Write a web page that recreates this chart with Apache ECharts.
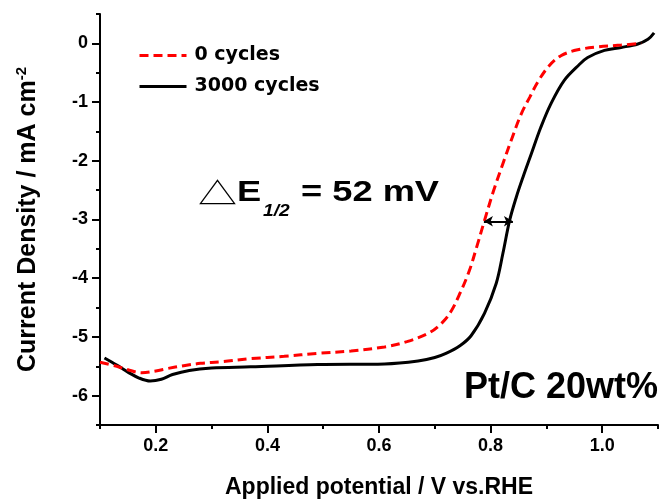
<!DOCTYPE html>
<html>
<head>
<meta charset="utf-8">
<script src="https://cdn.jsdelivr.net/npm/echarts@6/dist/echarts.min.js"></script>
<style>
  html, body { margin: 0; padding: 0; background: #fff; }
  #chart { width: 665px; height: 502px; }
</style>
</head>
<body>
<div id="chart"></div>
<script>
// Polarisation curves of Pt/C 20wt% before and after 3000 cycles
const potential0 = [0.100, 0.130, 0.150, 0.175, 0.200, 0.220, 0.250, 0.280, 0.320, 0.370,
  0.430, 0.490, 0.550, 0.610, 0.650, 0.690, 0.715, 0.730, 0.745, 0.762, 0.775, 0.789,
  0.805, 0.822, 0.837, 0.855, 0.870, 0.885, 0.905, 0.926, 0.956, 0.992, 1.034, 1.070];
const current0 = [-5.43, -5.50, -5.56, -5.61, -5.58, -5.54, -5.49, -5.45, -5.42, -5.37,
  -5.33, -5.28, -5.24, -5.17, -5.08, -4.93, -4.74, -4.55, -4.26, -3.87, -3.47, -3.02,
  -2.52, -2.05, -1.65, -1.20, -0.92, -0.65, -0.38, -0.21, -0.11, -0.06, -0.03, 0.00];

const potential3000 = [0.108, 0.130, 0.150, 0.170, 0.190, 0.210, 0.230, 0.260, 0.300, 0.370,
  0.490, 0.610, 0.670, 0.700, 0.720, 0.745, 0.765, 0.789, 0.810, 0.822, 0.834, 0.846,
  0.858, 0.873, 0.890, 0.908, 0.932, 0.959, 0.974, 1.004, 1.034, 1.064, 1.082, 1.093];
const current3000 = [-5.36, -5.48, -5.60, -5.70, -5.75, -5.72, -5.64, -5.57, -5.53, -5.51,
  -5.47, -5.46, -5.41, -5.35, -5.28, -5.15, -4.98, -4.60, -4.09, -3.58, -3.02, -2.62,
  -2.28, -1.88, -1.43, -1.03, -0.63, -0.36, -0.24, -0.12, -0.07, -0.01, 0.07, 0.18];

const seriesNames = ['0 cycles', '3000 cycles'];

// Half-wave potentials and their shift (V)
const halfWaveCurrent = -3.03;
const halfWave0 = 0.788;
const halfWaveShift = 0.052;

const xMajor = [0.2, 0.4, 0.6, 0.8, 1.0];
const xMinor = [0.1, 0.3, 0.5, 0.7, 0.9, 1.1];
const yMajor = [0, -1, -2, -3, -4, -5, -6];
const yMinor = [0.5, -0.5, -1.5, -2.5, -3.5, -4.5, -5.5, -6.5];

const FONT = '"Liberation Sans", Arial, Helvetica, sans-serif';
const WIDE_FONT = '"DejaVu Sans", "Liberation Sans", sans-serif';
const zip = (xs, ys) => xs.map((x, i) => [x, ys[i]]);

const chart = echarts.init(document.getElementById('chart'), null, { renderer: 'canvas' });

const axisLineStyle = { color: '#000', width: 2 };

chart.setOption({
  animation: false,
  backgroundColor: '#fff',
  grid: { left: 100, right: 7, top: 14, bottom: 77, outerBoundsMode: 'none' },
  legend: {
    data: seriesNames,
    orient: 'vertical',
    left: 138,
    top: 46,
    padding: 0,
    itemWidth: 47,
    itemHeight: 20,
    itemGap: 12,
    // line-only keys: hide the marker symbol
    itemStyle: { color: 'transparent', borderColor: 'transparent', borderWidth: 0, opacity: 0 },
    lineStyle: { width: 3 },
    textStyle: { fontFamily: WIDE_FONT, fontWeight: 'bold', fontSize: 19, color: '#000', padding: [0, 0, 0, 3] }
  },
  xAxis: [
    {
      type: 'value', min: 0.1, max: 1.1, position: 'bottom',
      axisLine: { onZero: false, lineStyle: axisLineStyle },
      axisTick: { customValues: xMajor, length: 8, lineStyle: axisLineStyle },
      axisLabel: {
        customValues: xMajor, margin: 12,
        formatter: v => v.toFixed(1),
        fontFamily: FONT, fontWeight: 'bold', fontSize: 18, color: '#000'
      },
      splitLine: { show: false },
      name: 'Applied potential / V vs.RHE',
      nameLocation: 'middle', nameGap: 51,
      nameTextStyle: { fontFamily: FONT, fontWeight: 'bold', fontSize: 23, color: '#000' }
    },
    {
      type: 'value', min: 0.1, max: 1.1, position: 'bottom',
      axisLine: { show: false, onZero: false },
      axisTick: { customValues: xMinor, length: 4, lineStyle: axisLineStyle },
      axisLabel: { show: false },
      splitLine: { show: false }
    }
  ],
  yAxis: [
    {
      type: 'value', min: -6.5, max: 0.5, position: 'left',
      axisLine: { onZero: false, lineStyle: axisLineStyle },
      axisTick: { customValues: yMajor, length: 8, lineStyle: axisLineStyle },
      axisLabel: {
        customValues: yMajor, margin: 12,
        fontFamily: FONT, fontWeight: 'bold', fontSize: 18, color: '#000'
      },
      splitLine: { show: false },
      name: 'Current Density / mA cm{sup|-2}',
      nameLocation: 'middle', nameGap: 58,
      nameTextStyle: {
        fontFamily: FONT, fontWeight: 'bold', fontSize: 25, color: '#000',
        rich: { sup: { fontFamily: FONT, fontWeight: 'bold', fontSize: 15, verticalAlign: 'top', padding: [0, 0, 13, 0] } }
      }
    },
    {
      type: 'value', min: -6.5, max: 0.5, position: 'left',
      axisLine: { show: false, onZero: false },
      axisTick: { customValues: yMinor, length: 4, lineStyle: axisLineStyle },
      axisLabel: { show: false },
      splitLine: { show: false }
    }
  ],
  series: [
    {
      name: seriesNames[0], type: 'line', xAxisIndex: 0, yAxisIndex: 0,
      data: zip(potential0, current0),
      symbol: 'none', smooth: 0.35,
      lineStyle: { color: '#ff0000', width: 3, type: [9, 5] },
      itemStyle: { color: '#ff0000' },
      z: 3
    },
    {
      name: seriesNames[1], type: 'line', xAxisIndex: 0, yAxisIndex: 0,
      data: zip(potential3000, current3000),
      symbol: 'none', smooth: 0.35,
      lineStyle: { color: '#000', width: 3, type: 'solid' },
      itemStyle: { color: '#000' },
      z: 2,
      markLine: {
        silent: true,
        symbol: ['arrow', 'arrow'],
        symbolSize: [8, 9],
        label: { show: false },
        lineStyle: { color: '#000', width: 2, type: 'solid' },
        data: [[
          { coord: [halfWave0, halfWaveCurrent] },
          { coord: [halfWave0 + halfWaveShift, halfWaveCurrent] }
        ]]
      }
    }
  ],
  graphic: [
    {
      type: 'text', x: 198, y: 193, scaleX: 1.3,
      style: { text: '△', x: 0, y: 0, align: 'left', verticalAlign: 'middle',
        font: '30px "Noto Sans CJK SC", "DejaVu Sans", sans-serif', fill: '#000' }
    },
    {
      type: 'text', x: 237, y: 193, scaleX: 1.25,
      style: { text: 'E', x: 0, y: 0, align: 'left', verticalAlign: 'middle',
        font: 'bold 29px ' + FONT, fill: '#000' }
    },
    {
      type: 'text', x: 263, y: 212, scaleX: 1.2,
      style: { text: '1/2', x: 0, y: 0, align: 'left', verticalAlign: 'middle',
        font: 'italic bold 16px ' + FONT, fill: '#000' }
    },
    {
      type: 'text', x: 301, y: 193, scaleX: 1.25,
      style: { text: '= ' + Math.round(halfWaveShift * 1000) + ' mV', x: 0, y: 0, align: 'left', verticalAlign: 'middle',
        font: 'bold 29px ' + FONT, fill: '#000' }
    },
    {
      type: 'text', x: 658, y: 388,
      style: { text: 'Pt/C 20wt%', x: 0, y: 0, align: 'right', verticalAlign: 'middle',
        font: 'bold 36px ' + FONT, fill: '#000' }
    }
  ]
});
</script>
</body>
</html>
